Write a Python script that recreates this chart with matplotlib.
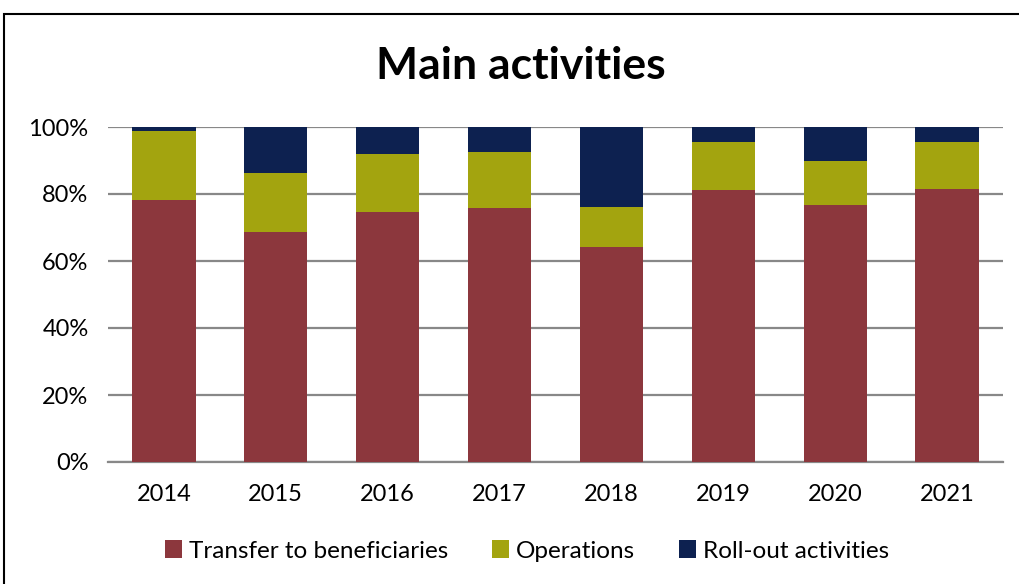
import matplotlib.pyplot as plt
from matplotlib.patches import Rectangle
import numpy as np

years = ["2014", "2015", "2016", "2017", "2018", "2019", "2020", "2021"]
transfer = [78.3, 68.7, 74.7, 75.9, 64.1, 81.3, 76.7, 81.6]
operations = [20.6, 17.5, 17.3, 16.5, 12.1, 14.3, 13.2, 14.0]
rollout = [1.1, 13.8, 8.0, 7.6, 23.8, 4.4, 10.1, 4.4]

colors = {"transfer": "#8C373D", "operations": "#A3A40F", "rollout": "#0D2150"}

plt.rcParams["font.family"] = ["Lato", "DejaVu Sans"]

fig = plt.figure(figsize=(10.2, 5.84), dpi=100)
ax = fig.add_axes([108 / 1020, 1 - 462 / 584, 895 / 1020, 335 / 584])

x = np.arange(len(years))
w = 0.565
t = np.array(transfer)
o = np.array(operations)
r = np.array(rollout)
ax.bar(x, t, w, color=colors["transfer"], label="Transfer to beneficiaries", zorder=3)
ax.bar(x, o, w, bottom=t, color=colors["operations"], label="Operations", zorder=3)
ax.bar(x, r, w, bottom=t + o, color=colors["rollout"], label="Roll-out activities", zorder=3)

ax.set_xlim(-0.5, len(years) - 0.5)
ax.set_ylim(0, 100)
ax.set_yticks(range(0, 101, 20))
ax.set_yticklabels([f"{v}%" for v in range(0, 101, 20)], fontsize=17)
ax.set_xticks(x)
ax.set_xticklabels(years, fontsize=17)
ax.yaxis.grid(True, color="#888888", linewidth=1.6, zorder=1)
for s in ["left", "right", "top"]:
    ax.spines[s].set_visible(False)
ax.spines["bottom"].set_color("#888888")
ax.spines["bottom"].set_linewidth(1.6)
ax.tick_params(axis="y", length=0, pad=14)
ax.tick_params(axis="x", length=0, pad=16)

fig.text(521 / 1020, 1 - 66 / 584, "Main activities", ha="center", va="center",
         fontsize=32, fontweight="bold")

ax.legend(loc="center", bbox_to_anchor=((527 - 108) / 895, (462 - 551) / 335), ncol=3, frameon=False,
          fontsize=17.5, handlelength=0.7, handleheight=0.7, handletextpad=0.3, columnspacing=1.8)

fig.patches.append(Rectangle((4.5 / 1020, -0.1), 1.2, 1 - 14.5 / 584 + 0.1, transform=fig.transFigure,
                             fill=False, edgecolor="black", linewidth=1.5))

fig.savefig("out.png", dpi=100)
